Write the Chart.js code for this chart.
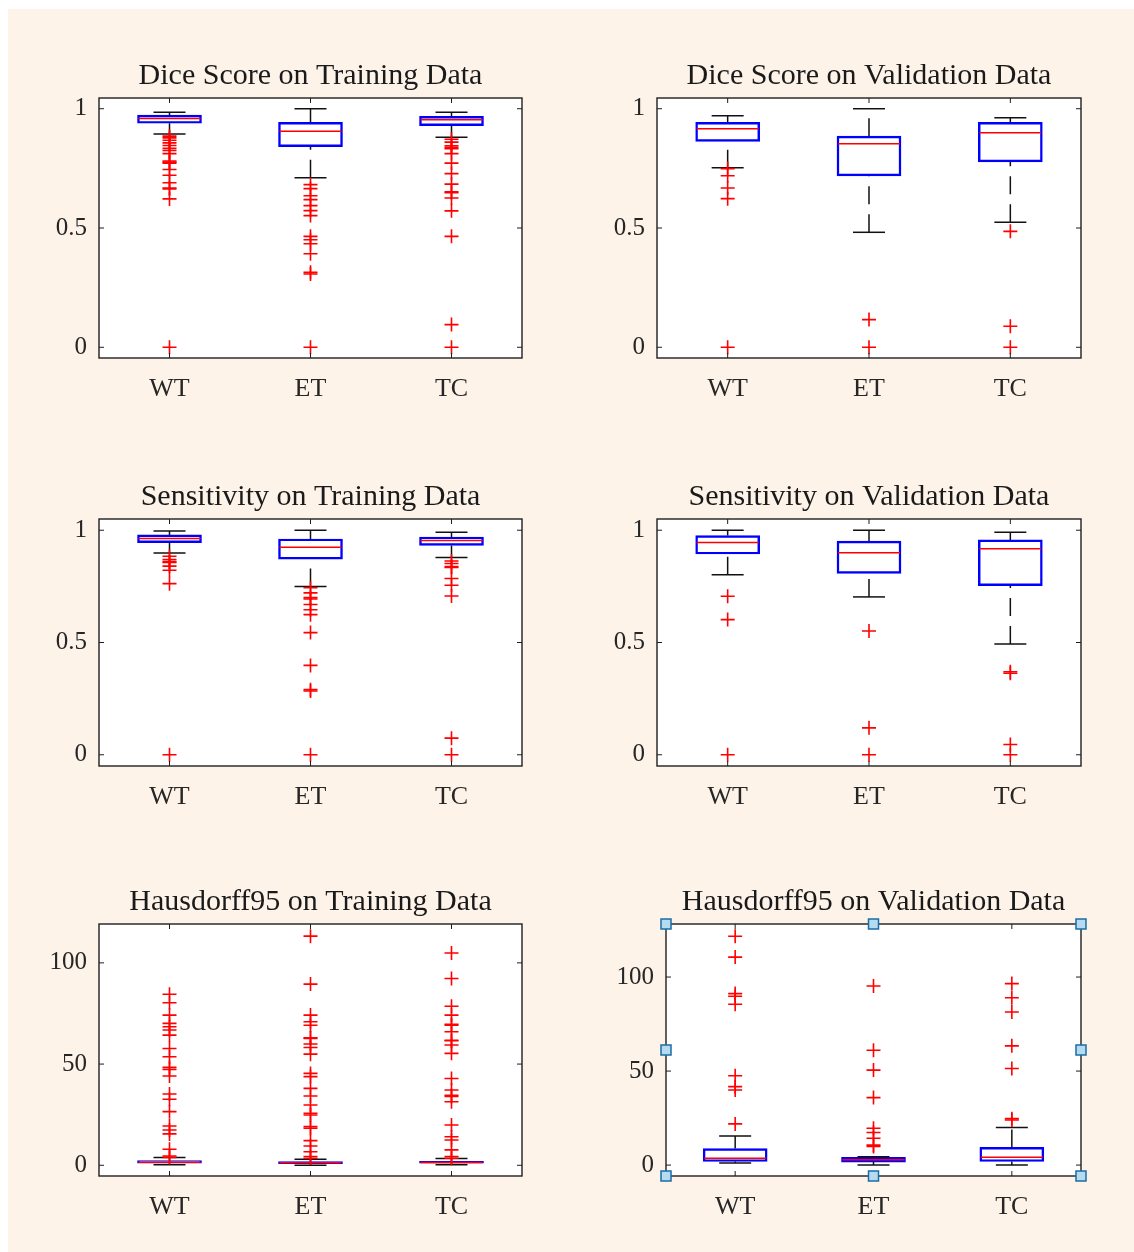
<!DOCTYPE html>
<html><head><meta charset="utf-8">
<script src="https://cdn.jsdelivr.net/npm/chart.js@4.4.0/dist/chart.umd.min.js"></script>
<style>
html,body{margin:0;padding:0;background:#fff;}
#page{position:relative;width:1134px;height:1252px;overflow:hidden;background:#fff;}
#bg{position:absolute;left:8px;top:9px;right:0;bottom:0;background:#fdf3e9;}
canvas{position:absolute;}
</style></head><body><div id="page"><div id="bg"></div></div>
<script>
// ---------- DATA ----------
const categories = ['WT', 'ET', 'TC'];
const titles = [
  'Dice Score on Training Data', 'Dice Score on Validation Data',
  'Sensitivity on Training Data', 'Sensitivity on Validation Data',
  'Hausdorff95 on Training Data', 'Hausdorff95 on Validation Data'
];
const scoreTicks = [0, 0.5, 1];
const scoreTickLabels = ['0', '0.5', '1'];
const hdTicks = [0, 50, 100];
const hdTickLabels = ['0', '50', '100'];

// per category: [lower whisker, Q1, median, Q3, upper whisker]
const diceTrainStats = [[0.894, 0.939, 0.959, 0.973, 0.985], [0.711, 0.841, 0.906, 0.943, 1.0], [0.880, 0.929, 0.954, 0.968, 0.985]];
const diceTrainOutliers = [
  [0.885, 0.878, 0.868, 0.857, 0.846, 0.834, 0.825, 0.812, 0.781, 0.776, 0.772, 0.745, 0.721, 0.690, 0.668, 0.664, 0.622, 0],
  [0.682, 0.665, 0.635, 0.619, 0.594, 0.573, 0.552, 0.465, 0.451, 0.434, 0.392, 0.314, 0.307, 0],
  [0.872, 0.860, 0.845, 0.838, 0.832, 0.812, 0.772, 0.728, 0.684, 0.652, 0.648, 0.626, 0.572, 0.465, 0.095, 0]
];
const diceValStats = [[0.753, 0.863, 0.916, 0.943, 0.971], [0.482, 0.718, 0.853, 0.885, 1.0], [0.524, 0.777, 0.899, 0.943, 0.962]];
const diceValOutliers = [[0.749, 0.719, 0.668, 0.623, 0], [0.116, 0], [0.486, 0.088, 0]];
const sensTrainStats = [[0.899, 0.945, 0.963, 0.979, 0.997], [0.749, 0.871, 0.924, 0.961, 1.0], [0.878, 0.932, 0.954, 0.970, 0.991]];
const sensTrainOutliers = [
  [0.884, 0.869, 0.859, 0.856, 0.840, 0.822, 0.762, 0],
  [0.744, 0.721, 0.700, 0.694, 0.669, 0.646, 0.624, 0.544, 0.398, 0.290, 0.284, 0],
  [0.863, 0.852, 0.838, 0.834, 0.785, 0.755, 0.707, 0.074, 0]
];
const sensValStats = [[0.802, 0.894, 0.945, 0.976, 1.0], [0.703, 0.808, 0.900, 0.952, 1.0], [0.493, 0.753, 0.917, 0.957, 0.991]];
const sensValOutliers = [[0.706, 0.602, 0], [0.551, 0.120, 0], [0.370, 0.363, 0.046, 0]];
const hdTrainStats = [[0.3, 1.0, 1.5, 2.3, 3.8], [0.0, 0.8, 1.2, 1.8, 3.0], [0.2, 1.0, 1.4, 2.0, 3.3]];
const hdTrainOutliers = [
  [3.9, 4.6, 7.9, 15.5, 17.4, 19.4, 26.5, 32.6, 35.2, 44.1, 47.4, 48.4, 53.6, 57.7, 64.3, 66.8, 68.4, 70.1, 74.2, 80.3, 84.5],
  [3.5, 4.3, 6.7, 9.5, 12.2, 18.3, 19.1, 24.8, 25.7, 29.8, 34.2, 38.0, 43.8, 45.4, 54.9, 58.2, 59.9, 62.7, 63.0, 69.2, 70.9, 74.2, 89.5, 113.2],
  [3.5, 4.3, 7.6, 12.5, 14.1, 19.9, 31.4, 34.0, 34.6, 37.2, 42.9, 55.3, 59.4, 61.5, 61.8, 66.0, 69.2, 69.7, 74.2, 78.6, 92.3, 104.9]
];
const hdValStats = [[1.1, 1.9, 3.7, 8.8, 15.5], [0.0, 1.6, 2.8, 4.1, 4.4], [0.0, 1.9, 4.2, 9.4, 20.0]];
const hdValOutliers = [
  [21.9, 39.9, 41.7, 47.5, 85.5, 89.8, 91.2, 110.6, 121.7],
  [9.9, 10.6, 14.3, 17.3, 19.6, 35.9, 50.5, 61.1, 95.2],
  [24.0, 24.7, 51.4, 63.4, 81.4, 89.0, 96.5]
];

// ---------- LAYOUT / STYLE ----------
const SERIF = "'Liberation Serif','Times New Roman',serif";
const panels = [
  {title: titles[0], stats: diceTrainStats, out: diceTrainOutliers, ticks: scoreTicks, labels: scoreTickLabels, yMin: -0.045, yMax: 1.045, l: 99, t: 98, w: 423, h: 260},
  {title: titles[1], stats: diceValStats, out: diceValOutliers, ticks: scoreTicks, labels: scoreTickLabels, yMin: -0.045, yMax: 1.045, l: 657, t: 98, w: 424, h: 260},
  {title: titles[2], stats: sensTrainStats, out: sensTrainOutliers, ticks: scoreTicks, labels: scoreTickLabels, yMin: -0.05, yMax: 1.05, l: 99, t: 519, w: 423, h: 247},
  {title: titles[3], stats: sensValStats, out: sensValOutliers, ticks: scoreTicks, labels: scoreTickLabels, yMin: -0.05, yMax: 1.05, l: 657, t: 519, w: 424, h: 247},
  {title: titles[4], stats: hdTrainStats, out: hdTrainOutliers, ticks: hdTicks, labels: hdTickLabels, yMin: -5.3, yMax: 119.2, l: 99, t: 924, w: 423, h: 252},
  {title: titles[5], stats: hdValStats, out: hdValOutliers, ticks: hdTicks, labels: hdTickLabels, yMin: -5.8, yMax: 128.2, l: 666, t: 924, w: 415, h: 252, handles: true}
];
const YW = 60, TH = 40, XH = 60, PR = 10;

const framePlugin = {
  id: 'frame',
  beforeDraw(chart) {
    const a = chart.chartArea, ctx = chart.ctx;
    ctx.save(); ctx.fillStyle = '#ffffff';
    ctx.fillRect(a.left, a.top, a.right - a.left, a.bottom - a.top);
    ctx.restore();
  },
  afterDatasetsDraw(chart, args, opts) {
    const a = chart.chartArea, ctx = chart.ctx;
    const xs = chart.scales.x, ys = chart.scales.y;
    ctx.save();
    ctx.strokeStyle = '#1e1e1e'; ctx.lineWidth = 1.4;
    ctx.strokeRect(a.left, a.top, a.right - a.left, a.bottom - a.top);
    ctx.lineWidth = 1;
    ctx.beginPath();
    ys.ticks.forEach(t => {
      const y = ys.getPixelForValue(t.value);
      ctx.moveTo(a.left, y); ctx.lineTo(a.left + 5, y);
      ctx.moveTo(a.right, y); ctx.lineTo(a.right - 5, y);
    });
    xs.ticks.forEach(t => {
      const x = xs.getPixelForValue(t.value);
      ctx.moveTo(x, a.bottom); ctx.lineTo(x, a.bottom - 5);
      ctx.moveTo(x, a.top); ctx.lineTo(x, a.top + 5);
    });
    ctx.stroke();
    ctx.restore();
  },
  afterDraw(chart, args, opts) {
    if (!opts.handles) return;
    const a = chart.chartArea, ctx = chart.ctx;
    const mx = (a.left + a.right) / 2, my = (a.top + a.bottom) / 2;
    const pts = [[a.left, a.top], [mx, a.top], [a.right, a.top], [a.left, my], [a.right, my], [a.left, a.bottom], [mx, a.bottom], [a.right, a.bottom]];
    ctx.save();
    ctx.fillStyle = '#b5dbf3'; ctx.strokeStyle = '#1d6da3'; ctx.lineWidth = 1.5;
    pts.forEach(([x, y]) => { ctx.fillRect(x - 5, y - 5, 10, 10); ctx.strokeRect(x - 5, y - 5, 10, 10); });
    ctx.restore();
  }
};

function makeChart(p) {
  const c = document.createElement('canvas');
  const cw = YW + p.w + PR, ch = TH + p.h + XH;
  c.width = cw; c.height = ch;
  c.style.left = (p.l - YW) + 'px'; c.style.top = (p.t - TH) + 'px';
  c.style.width = cw + 'px'; c.style.height = ch + 'px';
  document.getElementById('page').appendChild(c);

  const boxData = p.stats.map((s, i) => ({x: i + 1, y: [s[1], s[3]]}));
  const whiskerData = [];
  p.stats.forEach((s, i) => {
    whiskerData.push({x: i + 1, y: s[0]}, {x: i + 1, y: s[1]}, {x: i + 1, y: null});
    whiskerData.push({x: i + 1, y: s[3]}, {x: i + 1, y: s[4]}, {x: i + 1, y: null});
  });
  const capData = p.stats.flatMap((s, i) => [{x: i + 1, y: s[0]}, {x: i + 1, y: s[4]}]);
  const medData = p.stats.map((s, i) => ({x: i + 1, y: s[2]}));
  const outData = p.out.flatMap((arr, i) => arr.map(v => ({x: i + 1, y: v})));

  new Chart(c, {
    type: 'bar',
    data: {
      datasets: [
        {type: 'scatter', data: outData, pointStyle: 'cross', pointRadius: 7, borderColor: '#ff0000', borderWidth: 1.6, backgroundColor: '#ff0000', order: 0},
        {type: 'scatter', data: medData, pointStyle: 'line', pointRadius: 31, borderColor: '#ff0000', borderWidth: 1.5, order: 1},
        {type: 'scatter', data: capData, pointStyle: 'line', pointRadius: 16, borderColor: '#111111', borderWidth: 1.5, order: 2},
        {type: 'line', data: whiskerData, borderColor: '#111111', borderWidth: 1.5, borderDash: [18, 10], pointRadius: 0, spanGaps: false, fill: false, order: 3},
        {type: 'bar', data: boxData, backgroundColor: 'rgba(0,0,0,0)', borderColor: '#0000ff', borderWidth: 1.8, borderSkipped: false, barThickness: 64, order: 4}
      ]
    },
    options: {
      responsive: false, animation: false, events: [],
      layout: {autoPadding: false, padding: {left: 0, right: PR, top: 0, bottom: 0}},
      plugins: {
        legend: {display: false}, tooltip: {enabled: false},
        title: {display: true, text: p.title, fullSize: false, color: '#1a1a1a',
          font: {family: SERIF, size: 30, weight: 'normal', lineHeight: 1.2}, padding: {top: 0, bottom: 4}},
        frame: {handles: !!p.handles}
      },
      scales: {
        x: {type: 'linear', min: 0.5, max: 3.5, offset: false,
          grid: {display: false, drawTicks: false}, border: {display: false},
          ticks: {color: '#262626', font: {family: SERIF, size: 26}, padding: 16,
            callback: v => categories[Math.round(v) - 1] || ''},
          afterBuildTicks: s => { s.ticks = categories.map((c, i) => ({value: i + 1})); },
          afterFit: s => { s.height = XH; s.paddingLeft = 0; s.paddingRight = 0; }},
        y: {type: 'linear', min: p.yMin, max: p.yMax,
          grid: {display: false, drawTicks: false}, border: {display: false},
          ticks: {color: '#262626', font: {family: SERIF, size: 25}, padding: 12,
            callback: v => { const k = p.ticks.indexOf(v); return k >= 0 ? p.labels[k] : ''; }},
          afterBuildTicks: s => { s.ticks = p.ticks.map(v => ({value: v})); },
          afterFit: s => { s.width = YW; s.paddingTop = 0; s.paddingBottom = 0; }}
      }
    },
    plugins: [framePlugin]
  });
}
panels.forEach(makeChart);
</script>
</body></html>
